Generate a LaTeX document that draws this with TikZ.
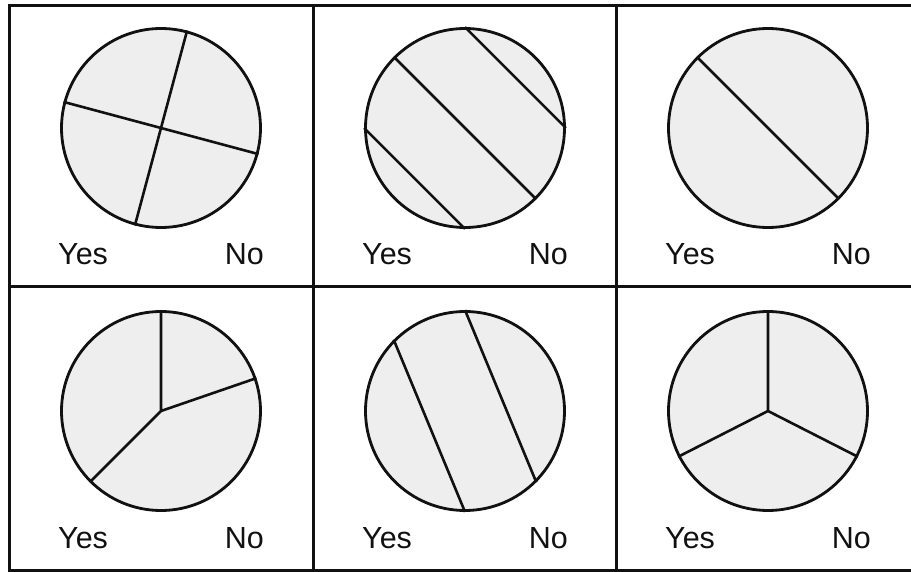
\documentclass[tikz,border=0pt]{standalone}
\usepackage{fontspec}
\setmainfont{Liberation Sans}
\usepackage{xcolor}
\usepackage{tikz}
\definecolor{cFill}{HTML}{EEEEEE}
\definecolor{cLine}{HTML}{111111}

\begin{document}
\begin{tikzpicture}[x=1pt, y=-1pt,
  pie/.style={circle, draw=cLine, fill=cFill, line width=2.8pt, minimum size=199pt, inner sep=0pt},
  cut/.style={draw=cLine, line width=2.6pt},
  grid/.style={draw=cLine, line width=3pt},
  lbl/.style={font=\fontsize{30.5}{36}\selectfont, inner sep=0pt, text=cLine}]
\useasboundingbox (0,0) rectangle (911,572);
\draw[grid] (911,6) -- (9,6) -- (9,570) -- (911,570);
\draw[grid] (9,287) -- (911,287);
\draw[grid] (313,6) -- (313,570);
\draw[grid] (616,6) -- (616,570);
\foreach \i/\cx/\cy in {1/161/128, 2/465/128, 3/768/128, 4/161/411, 5/465/411, 6/768/411} {
  \node[pie] (p\i) at (\cx,\cy) {};
  \node[lbl, anchor=base west] (y\i) at (\cx-103,\cy+137) {Yes};
  \node[lbl, anchor=base east] (n\i) at (\cx+103,\cy+137) {No};
}
\draw[cut] (p1.75) -- (p1.255) (p1.165) -- (p1.345);
\draw[cut] (p2.90) -- (p2.0) (p2.135) -- (p2.315) (p2.180) -- (p2.270);
\draw[cut] (p3.135) -- (p3.315);
\draw[cut] (p4.90) -- (p4.center) -- (p4.19) (p4.center) -- (p4.225);
\draw[cut] (p5.135) -- (p5.270) (p5.90) -- (p5.315);
\draw[cut] (p6.90) -- (p6.center) -- (p6.207) (p6.center) -- (p6.333);
\end{tikzpicture}
\end{document}
